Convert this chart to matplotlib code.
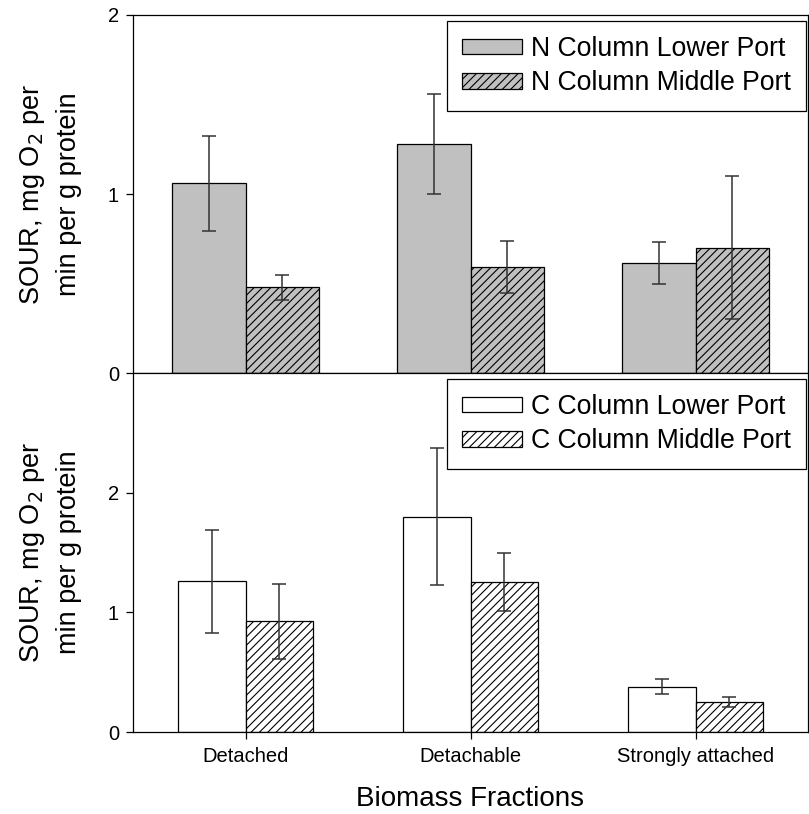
import matplotlib
matplotlib.use('Agg')
import matplotlib.pyplot as plt
import numpy as np

plt.rcParams['font.family'] = ['Liberation Sans', 'DejaVu Sans']
plt.rcParams['hatch.linewidth'] = 0.8

fractions = ['Detached', 'Detachable', 'Strongly attached']

# N column (top panel)
n_lower = [1.06, 1.28, 0.615]
n_lower_err = [0.265, 0.28, 0.118]
n_middle = [0.48, 0.59, 0.70]
n_middle_err = [0.07, 0.145, 0.40]

# C column (bottom panel)
c_lower = [1.26, 1.80, 0.38]
c_lower_err = [0.43, 0.575, 0.065]
c_middle = [0.925, 1.255, 0.25]
c_middle_err = [0.315, 0.24, 0.045]

ylabel = 'SOUR, mg O$_2$ per\nmin per g protein'

fig = plt.figure(figsize=(8.09, 8.14), dpi=100)
ax_top = fig.add_axes([133 / 809, 441 / 814, 675 / 809, 358 / 814])
ax_bot = fig.add_axes([133 / 809, 82 / 814, 675 / 809, 359 / 814])

x = np.arange(len(fractions))
err_kw = dict(ecolor='#333333', elinewidth=1.1, capsize=5, capthick=1.1)


def draw_panel(ax, lower, lower_err, middle, middle_err, width, face,
               labels, ylim):
    ax.bar(x - width / 2, lower, width, yerr=lower_err, color=face,
           edgecolor='black', linewidth=0.9, label=labels[0],
           error_kw=err_kw)
    ax.bar(x + width / 2, middle, width, yerr=middle_err, color=face,
           edgecolor='black', linewidth=0.9, hatch='////', label=labels[1],
           error_kw=err_kw)
    ax.set_xlim(-0.5, 2.5)
    ax.set_ylim(*ylim)
    ax.set_yticks([0, 1, 2])
    ax.set_xticks(x)
    ax.tick_params(direction='out', length=5, width=0.9, labelsize=14.5)
    ax.tick_params(axis='y', pad=5)
    for s in ax.spines.values():
        s.set_linewidth(0.9)
    ax.set_ylabel(ylabel, fontsize=19.5, linespacing=1.45)
    ax.yaxis.set_label_coords(-0.075, 0.5)
    leg = ax.legend(loc='upper right', bbox_to_anchor=(0.997, 0.983),
                    borderaxespad=0, fancybox=False, framealpha=1,
                    edgecolor='black', fontsize=19.2, handlelength=2.25,
                    handleheight=0.52, handletextpad=0.35, labelspacing=0.32,
                    borderpad=0.55)
    leg.get_frame().set_linewidth(0.9)


draw_panel(ax_top, n_lower, n_lower_err, n_middle, n_middle_err, 0.327,
           '#c0c0c0', ['N Column Lower Port', 'N Column Middle Port'],
           (0, 2))
ax_top.set_xticklabels([])

draw_panel(ax_bot, c_lower, c_lower_err, c_middle, c_middle_err, 0.30,
           'white', ['C Column Lower Port', 'C Column Middle Port'],
           (0, 3))
ax_bot.set_xticklabels(fractions)
ax_bot.tick_params(axis='x', pad=6)
ax_bot.set_xlabel('Biomass Fractions', fontsize=20, labelpad=14)

fig.savefig('out.png', dpi=100)
